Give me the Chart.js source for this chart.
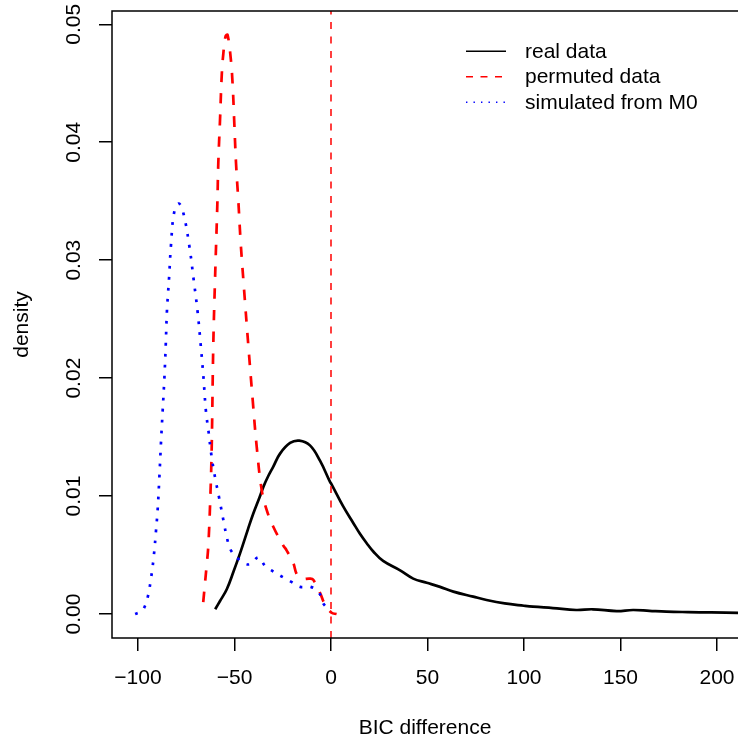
<!DOCTYPE html>
<html>
<head>
<meta charset="utf-8">
<title>BIC difference density</title>
<script src="https://cdn.jsdelivr.net/npm/chart.js@4.4.1/dist/chart.umd.min.js"></script>
<style>
    html, body { margin: 0; padding: 0; background: #fff; }
    #wrap { width: 738px; height: 744px; }
</style>
</head>
<body>
<div id="wrap"><canvas id="myChart" width="738" height="744"></canvas></div>
<script>
// Density curves (x = BIC difference, y = density)
const realX = [-60.0, -57.5, -54, -50.5, -47, -43, -40.3, -37, -35, -32.5, -29.9, -26.4, -21.2, -16.4, -10.9, -5.7, -0.5, 0.3, 6.4, 11.6, 15, 18.5, 21.9, 27, 35.8, 42.6, 49.6, 56.5, 63.4, 73.7, 80.6, 90, 100, 104.7, 115, 127, 135.6, 148, 156.5, 165, 173.8, 185, 197, 212];
const realY = [0.0004, 0.0011, 0.0021, 0.0036, 0.0052, 0.0072, 0.0085, 0.0099, 0.0108, 0.0117, 0.0125, 0.0136, 0.0145, 0.0147, 0.0143, 0.0130, 0.0112, 0.0110, 0.0091, 0.0077, 0.0068, 0.0060, 0.0053, 0.0045, 0.0037, 0.0030, 0.00265, 0.0023, 0.0019, 0.00147, 0.00119, 0.0009, 0.0007, 0.00062, 0.0005, 0.00034, 0.0004, 0.00025, 0.00034, 0.00027, 0.0002, 0.00016, 0.00013, 0.0001];

const permX = [-66.2, -64.5, -63.6, -62.5, -61.8, -61, -60.1, -58.9, -58.4, -57.5, -56.6, -55.8, -54.6, -53.6, -52, -51, -50.2, -49.2, -48, -46.8, -45.4, -42.8, -40.5, -38.5, -35.9, -33.3, -29.9, -24.7, -23, -19.5, -17.8, -15.2, -10.9, -9.2, -5.7, -3.1, 0.3, 2.9];
const permY = [0.0010, 0.0040, 0.0057, 0.0100, 0.0142, 0.0227, 0.0283, 0.0347, 0.0382, 0.0419, 0.0457, 0.0475, 0.0490, 0.0491, 0.0472, 0.0450, 0.0420, 0.0382, 0.0350, 0.0315, 0.0283, 0.0227, 0.0180, 0.0142, 0.0105, 0.0088, 0.0074, 0.0058, 0.0054, 0.0043, 0.0034, 0.0030, 0.0030, 0.0029, 0.0018, 0.0008, 0.0001, 0.0];

const simX = [-101.5, -98.5, -96.9, -95, -93.1, -91.7, -90.7, -89.8, -88.9, -88.1, -87.2, -86.3, -85.6, -85, -83.9, -82.9, -81.2, -78.8, -76.5, -73.4, -71.2, -69.1, -67.5, -66.1, -64.8, -63.4, -62, -60.1, -57.9, -55.8, -53.4, -51.5, -47.5, -42.3, -37.6, -34.2, -29.9, -24.7, -20.3, -16, -10.5, -6.2, -3.6, 0.3];
const simY = [0.0, 0.0002, 0.0005, 0.0014, 0.0032, 0.0051, 0.0070, 0.0089, 0.0117, 0.0145, 0.0173, 0.0201, 0.0229, 0.0257, 0.0285, 0.0313, 0.0341, 0.0348, 0.0340, 0.0312, 0.0284, 0.0256, 0.0228, 0.0201, 0.0172, 0.0154, 0.0135, 0.0116, 0.0098, 0.0080, 0.0061, 0.0053, 0.0046, 0.0042, 0.0048, 0.0041, 0.0036, 0.0031, 0.0027, 0.0023, 0.0023, 0.0018, 0.0008, 0.0003];

const seriesNames = ['real data', 'permuted data', 'simulated from M0'];
const cutoffX = 0;

const xTicks = [-100, -50, 0, 50, 100, 150, 200];
const xTickLabels = ['\u2212100', '\u221250', '0', '50', '100', '150', '200'];
const yTicks = [0, 0.01, 0.02, 0.03, 0.04, 0.05];
const yTickLabels = ['0.00', '0.01', '0.02', '0.03', '0.04', '0.05'];

// axis limits (R style, a bit wider than the data)
const xMin = -113.47, xMax = 210.88;
const yMin = -0.002035, yMax = 0.051128;

function toPoints(xs, ys) {
    return xs.map((x, i) => ({ x: x, y: ys[i] }));
}

Chart.defaults.font.family = '"Liberation Sans", Arial, Helvetica, sans-serif';
Chart.defaults.font.size = 21;
Chart.defaults.color = '#000';

// plot box (right side runs off the picture)
const boxPlugin = {
    id: 'box',
    afterDraw(chart) {
        const { ctx, chartArea: a } = chart;
        ctx.save();
        ctx.strokeStyle = '#000';
        ctx.lineWidth = 1.5;
        ctx.strokeRect(a.left, a.top, a.right - a.left + 20, a.bottom - a.top);
        ctx.restore();
    }
};

// R-like legend without a frame, placed inside the plot
const legendPlugin = {
    id: 'rlegend',
    afterDraw(chart) {
        const ctx = chart.ctx;
        const dashes = [[], [7, 7.5], [1.4, 6.1]];
        ctx.save();
        chart.data.datasets.slice(0, 3).forEach((ds, i) => {
            const y = 51.2 + i * 25.5;
            ctx.beginPath();
            ctx.strokeStyle = ds.borderColor;
            ctx.lineWidth = 1.5;
            ctx.setLineDash(dashes[i]);
            ctx.moveTo(466, y);
            ctx.lineTo(506, y);
            ctx.stroke();
            ctx.setLineDash([]);
            ctx.fillStyle = '#000';
            ctx.font = '21px "Liberation Sans", Arial, sans-serif';
            ctx.textBaseline = 'middle';
            ctx.textAlign = 'left';
            ctx.fillText(ds.label, 525, y + 1);
        });
        ctx.restore();
    }
};

const ctx = document.getElementById('myChart').getContext('2d');
const myChart = new Chart(ctx, {
    type: 'line',
    data: {
        datasets: [{
            label: seriesNames[0],
            data: toPoints(realX, realY),
            borderColor: '#000000',
            borderWidth: 2.7,
            tension: 0.4,
            pointRadius: 0,
            order: 4
        }, {
            label: seriesNames[1],
            data: toPoints(permX, permY),
            borderColor: '#FF0000',
            borderWidth: 2.7,
            borderDash: [10.5, 11.2],
            tension: 0.4,
            pointRadius: 0,
            order: 3
        }, {
            label: seriesNames[2],
            data: toPoints(simX, simY),
            borderColor: '#0000FF',
            borderWidth: 2.7,
            borderDash: [2.7, 8.3],
            tension: 0.4,
            pointRadius: 0,
            order: 2
        }, {
            label: 'cutoff',
            data: [{ x: cutoffX, y: yMin }, { x: cutoffX, y: yMax }],
            borderColor: '#FF0000',
            borderWidth: 1.5,
            borderDash: [7, 7.5],
            tension: 0,
            pointRadius: 0,
            order: 1
        }]
    },
    options: {
        responsive: false,
        animation: false,
        events: [],
        layout: { padding: { top: 11, right: 0, bottom: 0, left: 0 } },
        plugins: { legend: { display: false }, tooltip: { enabled: false } },
        scales: {
            x: {
                type: 'linear',
                min: xMin,
                max: xMax,
                afterBuildTicks: s => { s.ticks = xTicks.map(v => ({ value: v })); },
                afterFit: s => { s.height = 106; s.paddingLeft = 0; s.paddingRight = 0; },
                grid: { display: true, drawOnChartArea: false, drawTicks: true, tickLength: 13, color: '#000', lineWidth: 1.5 },
                border: { display: false },
                ticks: { padding: 15, minRotation: 0, maxRotation: 0, autoSkip: false, callback: (v, i) => xTickLabels[i] },
                title: { display: true, text: 'BIC difference', padding: { top: 0, bottom: 3 } }
            },
            y: {
                type: 'linear',
                min: yMin,
                max: yMax,
                afterBuildTicks: s => { s.ticks = yTicks.map(v => ({ value: v })); },
                afterFit: s => { s.width = 112; s.paddingTop = 0; s.paddingBottom = 0; },
                grid: { display: true, drawOnChartArea: false, drawTicks: true, tickLength: 13, color: '#000', lineWidth: 1.5 },
                border: { display: false },
                ticks: { padding: 4, minRotation: 90, maxRotation: 90, crossAlign: 'center', autoSkip: false, callback: (v, i) => yTickLabels[i] },
                title: { display: true, text: 'density', padding: { top: 9.5, bottom: 0 } }
            }
        }
    },
    plugins: [boxPlugin, legendPlugin]
});
</script>
</body>
</html>
